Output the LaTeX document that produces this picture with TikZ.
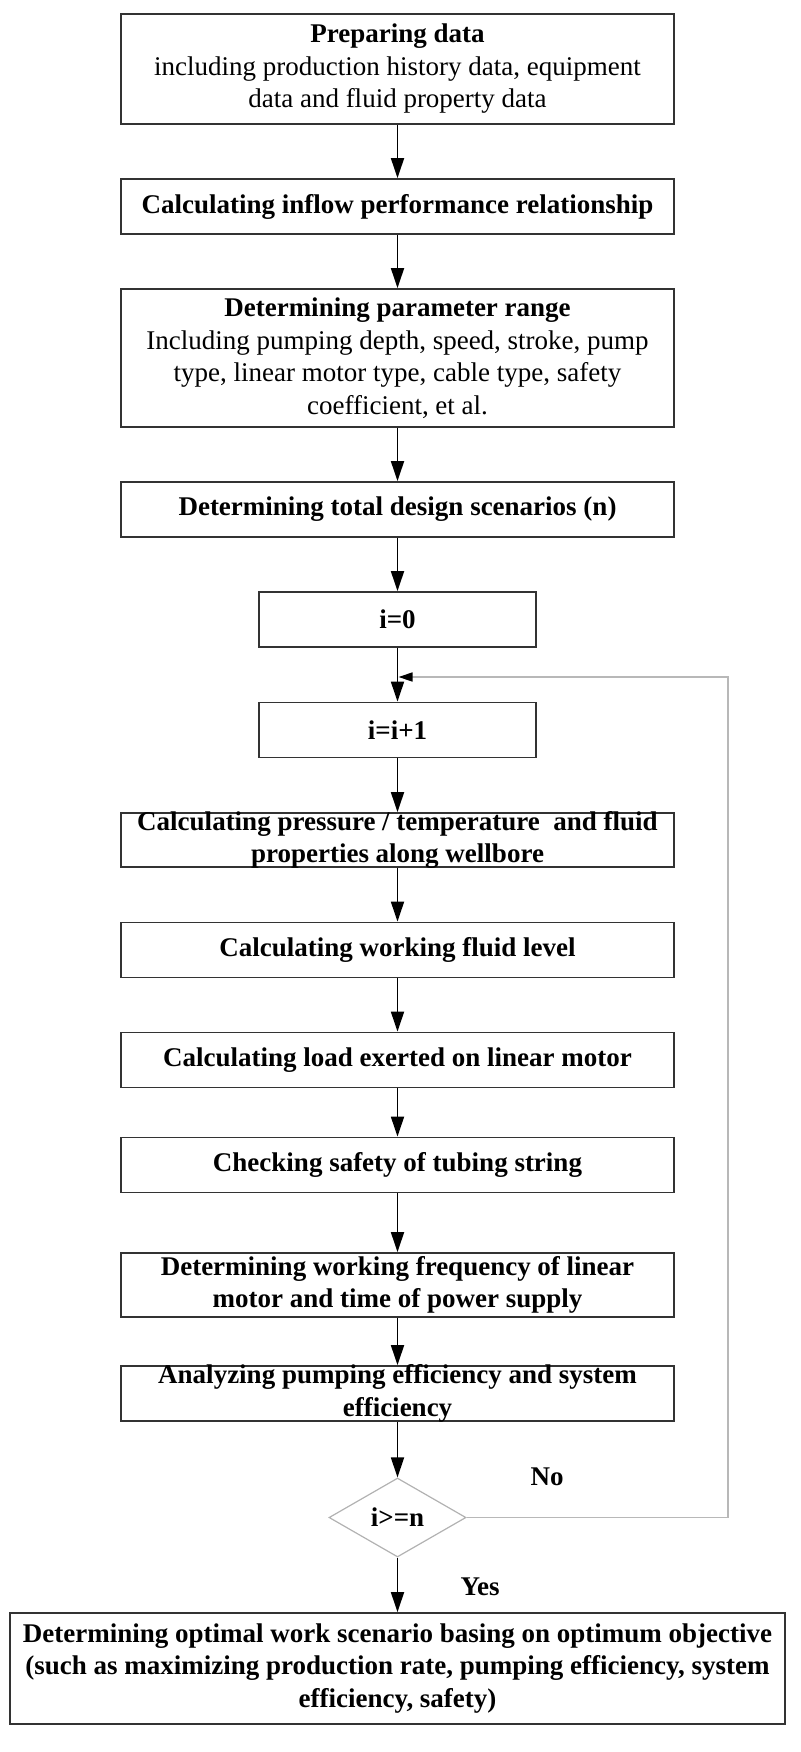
\documentclass[tikz,border=0pt]{standalone}
\usepackage{fontspec}
\setmainfont{Liberation Serif}
\usetikzlibrary{arrows.meta,shapes.geometric}
\begin{document}
\begin{tikzpicture}[x=1pt,y=-1pt,
  box/.style={draw=black!80,line width=1.8pt,rectangle,inner sep=0pt,minimum width=553pt},
  txt/.style={align=center,inner sep=0pt,font=\fontsize{27}{32.5}\selectfont\bfseries},
  arr/.style={draw=black,line width=1.8pt,-{Triangle[length=20pt,width=13pt]}},
  loopline/.style={draw=black!28,line width=1.4pt,-{Triangle[length=14pt,width=9pt,color=black]}},
  lbl/.style={inner sep=0pt,font=\fontsize{27}{32.5}\selectfont\bfseries}
]
\useasboundingbox (0,0) rectangle (800,1752);
% boxes
\node[box,minimum height=110pt] (b1) at (397.5,69) {};
\node[txt] (t1) at (b1.center) {Preparing data\\ \mdseries including production history data, equipment\\ \mdseries data and fluid property data};
\node[box,minimum height=55pt] (b2) at (397.5,206.5) {};
\node[txt] (t2) at (b2.center) {Calculating inflow performance relationship};
\node[box,minimum height=138pt] (b3) at (397.5,358) {};
\node[txt] (t3) at (b3.center) {Determining parameter range\\ \mdseries Including pumping depth, speed, stroke, pump\\ \mdseries type, linear motor type, cable type, safety\\ \mdseries coefficient, et al.};
\node[box,minimum height=55pt] (b4) at (397.5,509.5) {};
\node[txt] (t4) at (b4.center) {Determining total design scenarios (n)};
\node[box,minimum height=55pt,minimum width=277pt] (b5) at (397.5,619.5) {};
\node[txt] (t5) at (b5.center) {i=0};
\node[box,minimum height=55pt,minimum width=277pt] (b6) at (397.5,730) {};
\node[txt] (t6) at (b6.center) {i=i+1};
\node[box,minimum height=54pt] (b7) at (397.5,840) {};
\node[txt] (t7) at (b7.center) {Calculating pressure / temperature\ \ and fluid\\ properties along wellbore};
\node[box,minimum height=55pt] (b8) at (397.5,950) {};
\node[txt] (t8) at (b8.center) {Calculating working fluid level};
\node[box,minimum height=55pt] (b9) at (397.5,1060) {};
\node[txt] (t9) at (b9.center) {Calculating load exerted on linear motor};
\node[box,minimum height=55pt] (b10) at (397.5,1165) {};
\node[txt] (t10) at (b10.center) {Checking safety of tubing string};
\node[box,minimum height=64pt] (b11) at (397.5,1285) {};
\node[txt] (t11) at (b11.center) {Determining working frequency of linear\\ motor and time of power supply};
\node[box,minimum height=55pt] (b12) at (397.5,1393.5) {};
\node[txt] (t12) at (b12.center) {Analyzing pumping efficiency and system\\ efficiency};
\node[diamond,draw=black!30,line width=1.2pt,inner sep=0pt,minimum width=137pt,minimum height=79pt] (d) at (397.5,1517.5) {};
\node[txt] (td) at (d.center) {i>=n};
\node[box,minimum height=111pt,minimum width=775pt] (b13) at (397.5,1668.5) {};
\node[txt] (t13) at (b13.center) {Determining optimal work scenario basing on optimum objective\\ (such as maximizing production rate, pumping efficiency, system\\ efficiency, safety)};
% labels
\node[lbl] (no) at (547,1477) {No};
\node[lbl] (yes) at (480,1587) {Yes};
% arrows
\draw[arr] (b1.south) -- (b2.north);
\draw[arr] (b2.south) -- (b3.north);
\draw[arr] (b3.south) -- (b4.north);
\draw[arr] (b4.south) -- (b5.north);
\draw[arr] (b5.south) -- (b6.north);
\draw[arr] (b6.south) -- (b7.north);
\draw[arr] (b7.south) -- (b8.north);
\draw[arr] (b8.south) -- (b9.north);
\draw[arr] (b9.south) -- (b10.north);
\draw[arr] (b10.south) -- (b11.north);
\draw[arr] (b11.south) -- (b12.north);
\draw[arr] (b12.south) -- (d.north);
\draw[arr] (d.south) -- (b13.north);
% loop back
\coordinate (c1) at (728,1517.5);
\coordinate (c2) at (728,677);
\coordinate (j) at (398.5,677);
\draw[loopline] (d.east) -- (c1) -- (c2) -- (j);
\end{tikzpicture}
\end{document}
